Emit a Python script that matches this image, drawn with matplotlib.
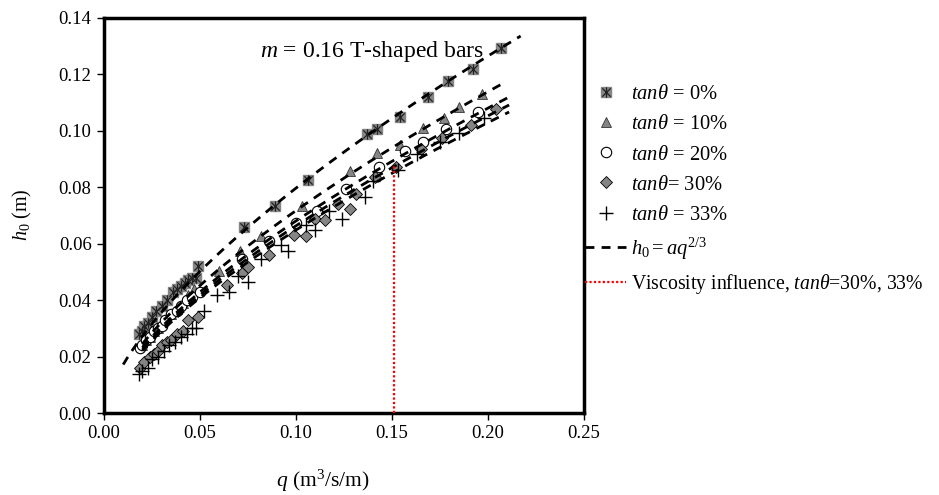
import numpy as np
import matplotlib
matplotlib.use('Agg')
import matplotlib.pyplot as plt
from matplotlib.path import Path
from matplotlib.legend_handler import HandlerTuple

plt.rcParams['font.family'] = ['Liberation Serif', 'DejaVu Serif']
plt.rcParams['mathtext.fontset'] = 'custom'
plt.rcParams['mathtext.rm'] = 'Liberation Serif'
plt.rcParams['mathtext.it'] = 'Liberation Serif:italic'
plt.rcParams['mathtext.bf'] = 'Liberation Serif:bold'

# ---------------- data ----------------
q_0 = [0.018, 0.020, 0.021, 0.023, 0.025, 0.027, 0.030, 0.033, 0.036, 0.038, 0.040, 0.042,
       0.044, 0.046, 0.048, 0.049, 0.073, 0.089, 0.106, 0.137, 0.142, 0.154, 0.169, 0.179,
       0.192, 0.207]
h_0 = [0.028, 0.029, 0.031, 0.032, 0.034, 0.036, 0.038, 0.040, 0.043, 0.044, 0.045, 0.046,
       0.047, 0.048, 0.048, 0.052, 0.066, 0.0735, 0.0826, 0.0989, 0.1006, 0.1050, 0.1121, 0.1177,
       0.1221, 0.1295]

q_10 = [0.020, 0.022, 0.024, 0.026, 0.028, 0.030, 0.033, 0.035, 0.038, 0.041, 0.044, 0.047,
        0.060, 0.071, 0.082, 0.103, 0.128, 0.142, 0.154, 0.166, 0.177, 0.185, 0.197]
h_10 = [0.024, 0.026, 0.027, 0.029, 0.030, 0.032, 0.034, 0.035, 0.037, 0.039, 0.042, 0.044,
        0.0505, 0.0574, 0.0626, 0.0735, 0.0856, 0.0920, 0.0951, 0.1010, 0.1047, 0.1083, 0.1132]

q_20 = [0.019, 0.020, 0.022, 0.024, 0.026, 0.028, 0.030, 0.032, 0.035, 0.038, 0.040, 0.043,
        0.046, 0.050, 0.072, 0.086, 0.100, 0.111, 0.126, 0.143, 0.157, 0.166, 0.178, 0.195]
h_20 = [0.023, 0.024, 0.026, 0.027, 0.029, 0.030, 0.031, 0.033, 0.035, 0.036, 0.038, 0.040,
        0.041, 0.043, 0.0547, 0.0609, 0.0673, 0.0715, 0.0794, 0.0873, 0.0928, 0.0960, 0.1006, 0.1067]

q_30 = [0.019, 0.021, 0.024, 0.026, 0.028, 0.030, 0.033, 0.035, 0.038, 0.041, 0.044, 0.049,
        0.064, 0.072, 0.075, 0.086, 0.099, 0.105, 0.110, 0.115, 0.122, 0.128, 0.131, 0.141,
        0.152, 0.165, 0.176, 0.191, 0.204]
h_30 = [0.016, 0.018, 0.020, 0.021, 0.022, 0.024, 0.025, 0.026, 0.028, 0.029, 0.033, 0.034,
        0.0455, 0.0496, 0.0517, 0.0561, 0.0632, 0.0629, 0.0687, 0.0685, 0.0741, 0.0724, 0.0777,
        0.0838, 0.0873, 0.0935, 0.0976, 0.1022, 0.1076]

q_33 = [0.018, 0.020, 0.023, 0.025, 0.028, 0.031, 0.034, 0.037, 0.040, 0.043, 0.046, 0.048,
        0.052, 0.059, 0.065, 0.070, 0.075, 0.082, 0.092, 0.096, 0.105, 0.110, 0.117, 0.124,
        0.136, 0.140, 0.153, 0.163, 0.175, 0.185, 0.198]
h_33 = [0.014, 0.015, 0.016, 0.019, 0.020, 0.022, 0.024, 0.025, 0.027, 0.028, 0.030, 0.030,
        0.036, 0.042, 0.0429, 0.0485, 0.0464, 0.0547, 0.0597, 0.0574, 0.0665, 0.0649, 0.0715,
        0.0688, 0.0765, 0.0821, 0.0862, 0.0918, 0.0961, 0.0994, 0.1046]

# fitted curves h0 = a q^(2/3)
fit_a = [0.370, 0.333, 0.316, 0.308, 0.301]
fit_q_start = [0.010, 0.020, 0.020, 0.020, 0.020]
fit_q_end = [0.217, 0.209, 0.211, 0.211, 0.211]

visc_q = 0.151
visc_h = 0.0875

x_ticks = [0.00, 0.05, 0.10, 0.15, 0.20, 0.25]
y_ticks = [0.00, 0.02, 0.04, 0.06, 0.08, 0.10, 0.12, 0.14]

labels = [r"$tan\theta$ = 0%", r"$tan\theta$ = 10%", r"$tan\theta$ = 20%",
          r"$tan\theta$= 30%", r"$tan\theta$ = 33%", r"$h_0 = aq^{2/3}$",
          r"Viscosity influence, $tan\theta$=30%, 33%"]

# ---------------- figure ----------------
FS = 13.5
LFS = 14.8
fig = plt.figure(figsize=(9.39, 4.95), dpi=100)
ax = fig.add_axes([104/939, 1-413/495, 480/939, 395/495])

grey = '#858585'
star_path = Path([(-1, -1), (1, 1), (-1, 1), (1, -1), (0, -1.25), (0, 1.25)],
                 [Path.MOVETO, Path.LINETO, Path.MOVETO, Path.LINETO, Path.MOVETO, Path.LINETO])

h_sq, = ax.plot(q_0, h_0, ls='none', marker='s', ms=7.5, mfc=grey, mec=grey, zorder=2)
h_st, = ax.plot(q_0, h_0, ls='none', marker=star_path, ms=7.5, mfc='none', mec='#222222',
                mew=0.9, zorder=2)
h_tri, = ax.plot(q_10, h_10, ls='none', marker='^', ms=7.5, mfc=grey, mec='#333333', mew=0.6, zorder=2)
h_cir, = ax.plot(q_20, h_20, ls='none', marker='o', ms=7.5, mfc='white', mec='black', mew=0.8, zorder=2)
h_dia, = ax.plot(q_30, h_30, ls='none', marker='D', ms=6, mfc=grey, mec='black', mew=0.6, zorder=2)
h_plus, = ax.plot(q_33, h_33, ls='none', marker='+', ms=10, mec='black', mew=1.0, zorder=2)

h_fit = None
for a, qs, qe in zip(fit_a, fit_q_start, fit_q_end):
    qq = np.linspace(qs, qe, 200)
    h_fit, = ax.plot(qq, a * qq ** (2.0 / 3.0), color='black', lw=2.0, ls=(0, (3.2, 2.6)), zorder=3)

h_visc, = ax.plot([visc_q, visc_q], [0, visc_h], color='red', lw=1.6, ls=(0, (1, 1)), zorder=4)

ax.set_xlim(0, 0.25)
ax.set_ylim(0, 0.14)
ax.set_xticks(x_ticks)
ax.set_yticks(y_ticks)
ax.set_xticklabels([f"{v:.2f}" for v in x_ticks])
ax.set_yticklabels([f"{v:.2f}" for v in y_ticks])
ax.tick_params(direction='out', length=5, width=1, labelsize=FS, pad=4)
for s in ax.spines.values():
    s.set_linewidth(2.5)
    s.set_color('black')

fig.text(323/939, 1 - 481/495, r"$q$ (m$^3$/s/m)", fontsize=15.5, ha='center', va='center')
fig.text(22/939, 1 - 215/495, r"$h_0$ (m)", fontsize=14.5, ha='center', va='center',
         rotation=90)

ax.text(0.081, 0.128, r"$m$ = 0.16 T-shaped bars", fontsize=17, va='center', ha='left')

leg = ax.legend([(h_sq, h_st), h_tri, h_cir, h_dia, h_plus, h_fit, h_visc], labels,
                handler_map={tuple: HandlerTuple(ndivide=1, pad=0)},
                loc='upper left', bbox_to_anchor=(585/939, 1 - 85/495),
                bbox_transform=fig.transFigure, frameon=False, fontsize=LFS,
                borderpad=0, borderaxespad=0, handlelength=2.0, handletextpad=0.25,
                labelspacing=0.52)
leg.get_texts()[6].set_fontsize(14.2)

fig.savefig('out.png', dpi=100)
